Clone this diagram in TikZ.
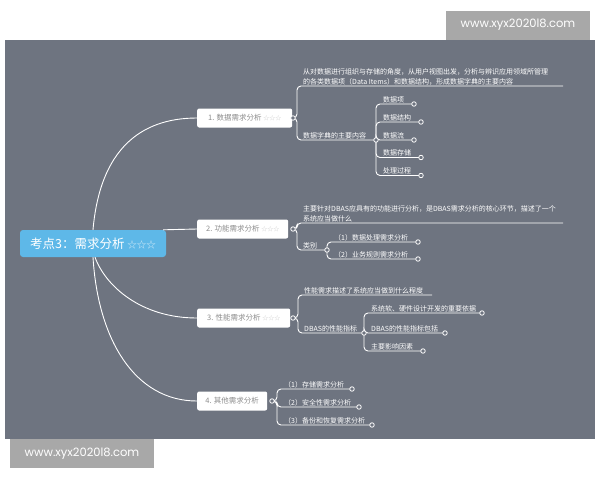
\documentclass[tikz,border=0pt]{standalone}
\usepackage{fontspec}
\setmainfont{Noto Sans CJK SC}
\newfontfamily\markfont{Poppins}

\definecolor{bggray}{RGB}{110,116,128}
\definecolor{markgray}{RGB}{168,168,168}
\definecolor{rootblue}{RGB}{94,184,232}
\definecolor{boxtext}{RGB}{140,140,140}
\definecolor{boxstar}{RGB}{205,205,205}

\tikzset{
  link/.style={draw=white, line width=0.9pt},
  brace/.style={link, rounded corners=4pt},
  rootbox/.style={fill=rootblue, rounded corners=3pt, text=white, font=\fontsize{12.5}{14}\selectfont,
    minimum width=146pt, minimum height=27pt, inner sep=0pt},
  branchbox/.style={fill=white, rounded corners=2pt, text=boxtext, font=\fontsize{7.5}{9}\selectfont,
    minimum height=19pt, inner sep=0pt, anchor=west},
  leaf/.style={text=white, font=\fontsize{7}{10}\selectfont, anchor=south west, inner sep=1pt, align=left},
  knot/.style={circle, draw=white, fill=bggray, line width=0.8pt, minimum size=4.5pt, inner sep=0pt},
  stamp/.style={fill=markgray, text=white, font=\markfont\fontsize{11.5}{13}\selectfont,
    minimum width=144pt, minimum height=29pt, inner sep=0pt}
}

\begin{document}
\begin{tikzpicture}[x=1pt, y=-1pt]
  \useasboundingbox (0,0) rectangle (600,480);
  \fill[white] (0,0) rectangle (600,480);
  \fill[bggray] (5,40) rectangle (595,439);
  \node[stamp] (marktop) at (518,25) {www.xyx2020l8.com};
  \node[stamp] (markbot) at (82,453.5) {www.xyx2020l8.com};

  % centre and the four branches
  \node[rootbox] (root) at (93,243.5) {考点3：需求分析 {\fontsize{9.5}{10}\selectfont\color{white!75!rootblue}☆☆☆}};
  \node[branchbox, minimum width=95pt] (b1) at (197,118) {1. 数据需求分析 {\fontsize{6}{7}\selectfont\color{boxstar}☆☆☆}};
  \node[branchbox, minimum width=91pt] (b2) at (197,229) {2. 功能需求分析 {\fontsize{6}{7}\selectfont\color{boxstar}☆☆☆}};
  \node[branchbox, minimum width=93pt] (b3) at (197,318) {3. 性能需求分析 {\fontsize{6}{7}\selectfont\color{boxstar}☆☆☆}};
  \node[branchbox, minimum width=70pt] (b4) at (197,401) {4. 其他需求分析};

  \draw[link] (root.north) .. controls (100,150) and (140,118) .. (b1.west);
  \draw[link] ([xshift=-3pt]root.north east) -- (b2.west);
  \draw[link] ([xshift=2pt]root.south) .. controls (105,285) and (140,318) .. (b3.west);
  \draw[link] (root.south) .. controls (98,340) and (135,401) .. (b4.west);

  % 1. data
  \coordinate (k1) at (293,118);
  \coordinate (t1end) at (563,86);
  \coordinate (k1d) at (376,140);
  \coordinate (k1a) at (414,104);
  \coordinate (k1b) at (421,122);
  \coordinate (k1c) at (414,140);
  \coordinate (k1e) at (421,157.5);
  \coordinate (k1f) at (421,175.5);
  \node[leaf] (t1) at (302,86) {从对数据进行组织与存储的角度，从用户视图出发，分析与辨识应用领域所管理\\的各类数据项（Data Items）和数据结构，形成数据字典的主要内容};
  \node[leaf] (d1) at (302,140) {数据字典的主要内容};
  \node[leaf] (l1a) at (382,104) {数据项};
  \node[leaf] (l1b) at (382,122) {数据结构};
  \node[leaf] (l1c) at (382,140) {数据流};
  \node[leaf] (l1e) at (382,157.5) {数据存储};
  \node[leaf] (l1f) at (382,175.5) {处理过程};
  \draw[brace] (k1) -- ++(4,0) |- (t1end);
  \draw[brace] (k1) -- ++(4,0) |- (k1d);
  \foreach \k in {k1a,k1b,k1c,k1e,k1f}
    \draw[brace] (k1d) |- (\k);

  % 2. function
  \coordinate (k2) at (293,229);
  \coordinate (t2end) at (563,223);
  \coordinate (k2d) at (327,250);
  \coordinate (k2a) at (418,242);
  \coordinate (k2b) at (418,259);
  \node[leaf] (t2) at (302,223) {主要针对DBAS应具有的功能进行分析，是DBAS需求分析的核心环节，描述了一个\\系统应当做什么};
  \node[leaf] (d2) at (302,250) {类别};
  \node[leaf] (l2a) at (333,242) {（1）数据处理需求分析};
  \node[leaf] (l2b) at (333,259) {（2）业务规则需求分析};
  \draw[brace] (k2) -- ++(4,0) |- (t2end);
  \draw[brace] (k2) -- ++(4,0) |- (k2d);
  \foreach \k in {k2a,k2b}
    \draw[brace] (k2d) |- (\k);

  % 3. performance
  \coordinate (k3) at (293,318);
  \coordinate (t3end) at (432,295);
  \coordinate (k3d) at (364,333);
  \coordinate (k3a) at (482,313);
  \coordinate (k3b) at (445,333);
  \coordinate (k3c) at (423,351);
  \node[leaf] (t3) at (303,295) {性能需求描述了系统应当做到什么程度};
  \node[leaf] (d3) at (303,333) {DBAS的性能指标};
  \node[leaf] (l3a) at (370,313) {系统软、硬件设计开发的重要依据};
  \node[leaf] (l3b) at (370,333) {DBAS的性能指标包括};
  \node[leaf] (l3c) at (370,351) {主要影响因素};
  \draw[brace] (k3) -- ++(5,0) |- (t3end);
  \draw[brace] (k3) -- ++(5,0) |- (k3d);
  \foreach \k in {k3a,k3b,k3c}
    \draw[brace] (k3d) |- (\k);

  % 4. other
  \coordinate (k4) at (272,401);
  \coordinate (k4a) at (352,389);
  \coordinate (k4b) at (359,407);
  \coordinate (k4c) at (372,425);
  \node[leaf] (l4a) at (283,389) {（1）存储需求分析};
  \node[leaf] (l4b) at (283,407) {（2）安全性需求分析};
  \node[leaf] (l4c) at (283,425) {（3）备份和恢复需求分析};
  \foreach \k in {k4a,k4b,k4c}
    \draw[brace] (k4) -- ++(5,0) |- (\k);

  % the little rings on top
  \foreach \k in {k1,k1d,k1a,k1b,k1c,k1e,k1f,k2,k2d,k2a,k2b,k3,k3d,k3a,k3b,k3c,k4,k4a,k4b,k4c}
    \node[knot] at (\k) {};
\end{tikzpicture}
\end{document}
